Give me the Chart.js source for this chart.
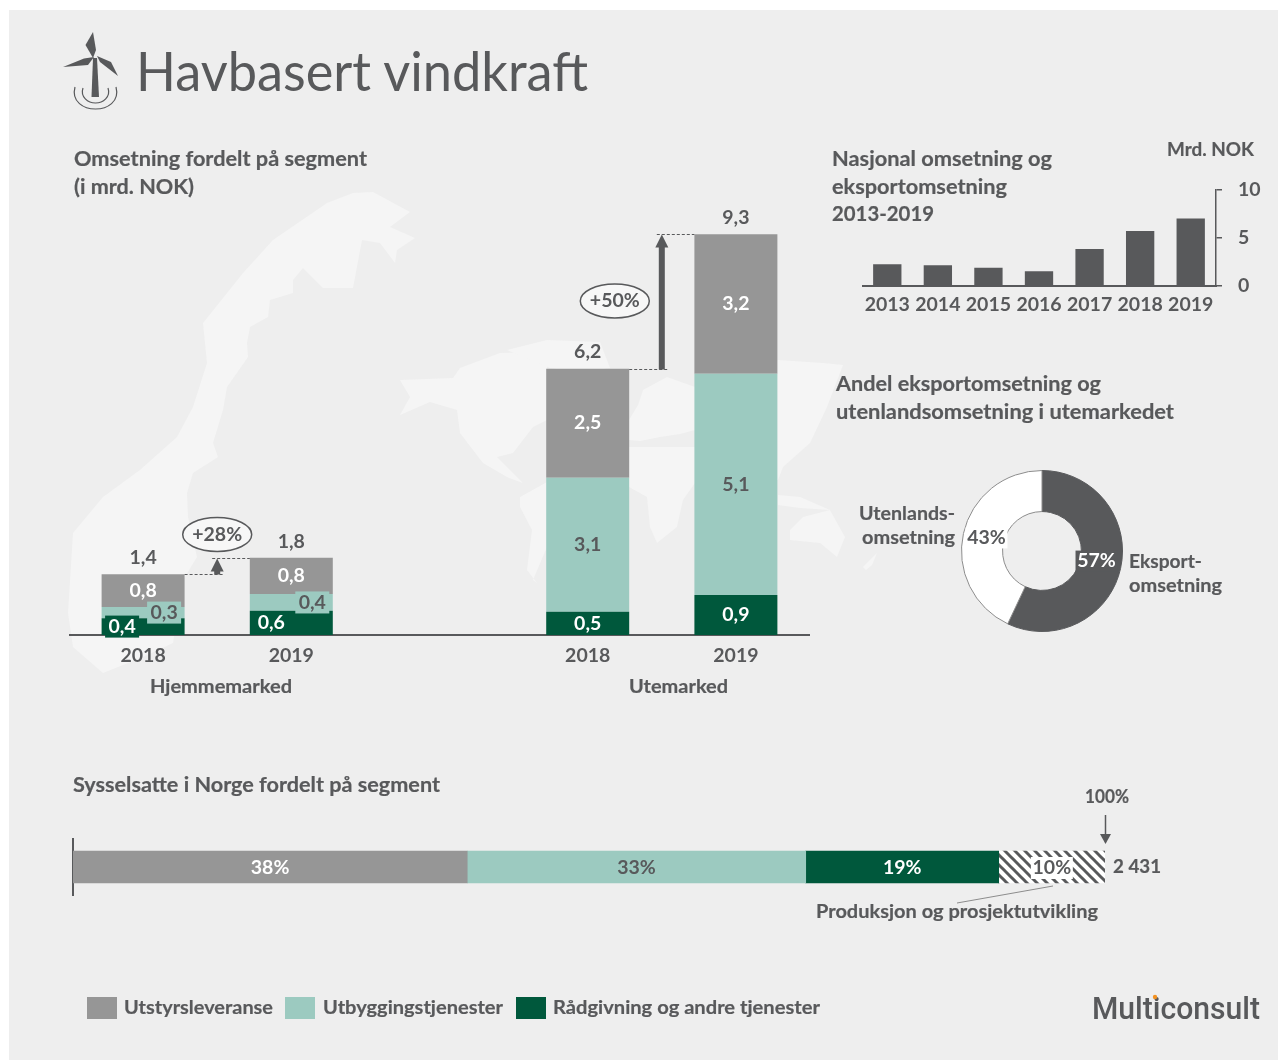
<!DOCTYPE html>
<html lang="no">
<head>
<meta charset="utf-8">
<title>Havbasert vindkraft</title>
<script src="https://cdn.jsdelivr.net/npm/chart.js@4"></script>
<style>
html,body{margin:0;padding:0;background:#fff;width:1279px;height:1061px;overflow:hidden}
#panel{position:absolute;left:9px;top:10px;width:1269px;height:1050px;background:#eee}
canvas,svg{position:absolute}
svg{left:0;top:0}
svg text{font-family:Lato,"Noto Sans",sans-serif;fill:#58595b}
</style>
</head>
<body>
<div id="panel"></div>
<svg id="map" width="1279" height="1061"></svg>
<canvas id="main" width="741" height="496" style="left:69px;top:204px"></canvas>
<canvas id="trend" width="400" height="136" style="left:862px;top:180px"></canvas>
<canvas id="share" width="164" height="164" style="left:960px;top:469px"></canvas>
<canvas id="staff" width="1037" height="58" style="left:72px;top:838px"></canvas>
<svg id="over" width="1279" height="1061"></svg>
<script>
// ---------- data ----------
const marketCategories = ['2018', '2019', '', '2018', '2019'];
const equipment  = [0.76, 0.84, null, 2.53, 3.24];
const buildout   = [0.26, 0.39, null, 3.11, 5.13];
const advisory   = [0.39, 0.56, null, 0.54, 0.93];
const totals     = [1.4, 1.8, null, 6.2, 9.3];
const growth     = ['+28%', '+50%'];

const trendYears  = ['2013', '2014', '2015', '2016', '2017', '2018', '2019'];
const trendValues = [2.25, 2.14, 1.9, 1.52, 3.83, 5.7, 7.0];

const shareLabels = ['Eksportomsetning', 'Utenlandsomsetning'];
const shareValues = [57, 43];

const staffNames  = ['Utstyrsleveranse', 'Utbyggingstjenester', 'Rådgivning og andre tjenester', 'Produksjon og prosjektutvikling'];
const staffValues = [38.2, 32.8, 18.7, 10.3];

// ---------- styling ----------
const GREY = '#969696', TEAL = '#9ccac0', GREEN = '#00583c', DARK = '#58595b';
const NUM_FONT = 'bold 19.5px Lato, "Noto Sans", sans-serif';
const comma = v => v.toFixed(1).replace('.', ',');

function boxedText(ctx, text, x, y, color, bg, w, h) {
  ctx.save();
  if (bg) { ctx.fillStyle = bg; ctx.fillRect(x - w / 2, y - h / 2, w, h); }
  ctx.font = NUM_FONT; ctx.fillStyle = color;
  ctx.textAlign = 'center'; ctx.textBaseline = 'middle';
  ctx.fillText(text, x, y);
  ctx.restore();
}

// ---------- main stacked bars ----------
const segStyle = [
  { color: '#ffffff', bg: GREEN },
  { color: DARK, bg: TEAL },
  { color: '#ffffff', bg: null }
];
const homeShift = { '0:0': -21, '0:1': -20, '1:0': 21, '1:1': 21 };

const mainAnnotations = {
  id: 'mainAnnotations',
  afterDatasetsDraw(chart) {
    const ctx = chart.ctx, y = chart.scales.y, x = chart.scales.x;
    chart.data.datasets.forEach((ds, d) => {
      chart.getDatasetMeta(d).data.forEach((el, i) => {
        const v = ds.data[i];
        if (v == null) return;
        const small = i < 2 && d < 2;
        const dx = homeShift[d + ':' + i] || 0;
        const cy = (el.y + el.base) / 2;
        boxedText(ctx, comma(v), el.x + dx, cy, segStyle[d].color, small ? segStyle[d].bg : null, 34, 22);
      });
    });
    totals.forEach((t, i) => {
      if (t == null) return;
      boxedText(ctx, comma(t), x.getPixelForValue(i), y.getPixelForValue(sum(i)) - 16.5, DARK);
    });
    const halfBar = chart.getDatasetMeta(0).data[0].width / 2;
    growthArrow(ctx, x, y, 0, 1, halfBar, growth[0], 0, -24);
    growthArrow(ctx, x, y, 3, 4, halfBar, growth[1], -47, null);
  }
};
function sum(i) { return equipment[i] + buildout[i] + advisory[i]; }
function growthArrow(ctx, x, y, a, b, halfBar, label, ex, ey) {
  const xa = x.getPixelForValue(a), xb = x.getPixelForValue(b);
  const ax = (xa + xb) / 2;
  const ya = Math.round(y.getPixelForValue(sum(a))) + .5, yb = Math.round(y.getPixelForValue(sum(b))) + .5;
  ctx.save();
  ctx.strokeStyle = DARK; ctx.lineWidth = 1; ctx.setLineDash([3, 2]);
  ctx.beginPath();
  ctx.moveTo(xa + halfBar, ya); ctx.lineTo(ax + 7, ya);
  ctx.moveTo(ax - 5, yb); ctx.lineTo(xb - halfBar, yb);
  ctx.stroke();
  ctx.setLineDash([]);
  ctx.fillStyle = DARK;
  ctx.fillRect(ax - 3, yb + 10, 6, ya - yb - 10);
  ctx.beginPath();
  ctx.moveTo(ax, yb); ctx.lineTo(ax + 6.5, yb + 13); ctx.lineTo(ax - 6.5, yb + 13); ctx.closePath(); ctx.fill();
  const ecx = ax + ex, ecy = ey == null ? (ya + yb) / 2 - 1 : yb + ey;
  ctx.beginPath(); ctx.ellipse(ecx, ecy, 34.5, 17, 0, 0, Math.PI * 2);
  ctx.fillStyle = '#f7f7f7'; ctx.fill();
  ctx.lineWidth = 1.5; ctx.strokeStyle = DARK; ctx.stroke();
  ctx.restore();
  boxedText(ctx, label, ecx, ecy, DARK);
}

const tickFont = { family: 'Lato', size: 19.5, weight: 'bold' };

new Chart(document.getElementById('main'), {
  type: 'bar',
  data: {
    labels: marketCategories,
    datasets: [
      { label: staffNames[2], data: advisory, backgroundColor: GREEN },
      { label: staffNames[1], data: buildout, backgroundColor: TEAL },
      { label: staffNames[0], data: equipment, backgroundColor: GREY }
    ]
  },
  options: {
    responsive: false, animation: false, devicePixelRatio: 1,
    layout: { padding: 0 },
    plugins: { legend: { display: false }, tooltip: { enabled: false } },
    datasets: { bar: { categoryPercentage: 1, barPercentage: 0.56 } },
    scales: {
      x: {
        stacked: true,
        afterFit: s => { s.height = 65; },
        grid: { display: false, drawTicks: false },
        border: { color: DARK, width: 2 },
        ticks: { color: DARK, font: tickFont, padding: 9, maxRotation: 0, autoSkip: false }
      },
      y: { stacked: true, display: false, min: 0, max: 10 }
    }
  },
  plugins: [mainAnnotations]
});

// ---------- national revenue ----------
new Chart(document.getElementById('trend'), {
  type: 'bar',
  data: { labels: trendYears, datasets: [{ data: trendValues, backgroundColor: DARK }] },
  options: {
    responsive: false, animation: false, devicePixelRatio: 1,
    layout: { padding: { top: 9.5 } },
    plugins: { legend: { display: false }, tooltip: { enabled: false } },
    datasets: { bar: { categoryPercentage: 1, barPercentage: 0.56 } },
    scales: {
      x: {
        afterFit: s => { s.height = 30; s.paddingLeft = 0; s.paddingRight = 0; },
        grid: { display: false, drawTicks: false },
        border: { color: DARK, width: 2 },
        ticks: { color: DARK, font: tickFont, padding: 7, maxRotation: 0, autoSkip: false }
      },
      y: {
        position: 'right', min: 0, max: 10,
        afterFit: s => { s.width = 46; s.paddingTop = 0; s.paddingBottom = 0; },
        grid: { drawOnChartArea: false, drawTicks: true, tickLength: 6, color: DARK, lineWidth: 1.5 },
        border: { color: DARK, width: 1.5 },
        ticks: { stepSize: 5, color: DARK, font: tickFont, padding: 16 }
      }
    }
  }
});

// ---------- share doughnut ----------
const shareLabelsPlugin = {
  id: 'shareLabelsPlugin',
  afterDatasetsDraw(chart) {
    const ctx = chart.ctx, arcs = chart.getDatasetMeta(0).data;
    const p0 = arcs[0].tooltipPosition(), p1 = arcs[1].tooltipPosition();
    boxedText(ctx, shareValues[0] + '%', p0.x - 4, p0.y - 3, '#ffffff', DARK, 42, 21);
    boxedText(ctx, shareValues[1] + '%', p1.x + 3, p1.y, DARK, '#ffffff', 42, 21);
  }
};
new Chart(document.getElementById('share'), {
  type: 'doughnut',
  data: {
    labels: shareLabels,
    datasets: [{ data: shareValues, backgroundColor: [DARK, '#ffffff'], borderColor: [DARK, '#8c8c8c'], borderWidth: 1 }]
  },
  options: {
    responsive: false, animation: false, devicePixelRatio: 1,
    cutout: '49%', rotation: 0, layout: { padding: 1 },
    plugins: { legend: { display: false }, tooltip: { enabled: false } }
  },
  plugins: [shareLabelsPlugin]
});

// ---------- employment bar ----------
function hatch() {
  const c = document.createElement('canvas'); c.width = c.height = 10;
  const g = c.getContext('2d');
  g.fillStyle = '#ffffff'; g.fillRect(0, 0, 10, 10);
  g.strokeStyle = DARK; g.lineWidth = 3;
  [-10, 0, 10].forEach(o => { g.beginPath(); g.moveTo(o - 2, -2); g.lineTo(o + 12, 12); g.stroke(); });
  return g.createPattern(c, 'repeat');
}
const staffStyle = [
  { color: GREY, text: '#ffffff' },
  { color: TEAL, text: DARK },
  { color: GREEN, text: '#ffffff' },
  { color: hatch(), text: DARK, bg: '#ffffff' }
];
const staffLabels = {
  id: 'staffLabels',
  afterDatasetsDraw(chart) {
    chart.data.datasets.forEach((ds, d) => {
      const el = chart.getDatasetMeta(d).data[0];
      const s = staffStyle[d];
      boxedText(chart.ctx, Math.round(ds.data[0]) + '%', (el.x + el.base) / 2, el.y + 1, s.text, s.bg, 42, 22);
    });
  }
};
new Chart(document.getElementById('staff'), {
  type: 'bar',
  data: {
    labels: ['Sysselsatte'],
    datasets: staffValues.map((v, i) => ({ label: staffNames[i], data: [v], backgroundColor: staffStyle[i].color }))
  },
  options: {
    indexAxis: 'y', responsive: false, animation: false, devicePixelRatio: 1,
    layout: { padding: { left: 1, right: 4 } },
    plugins: { legend: { display: false }, tooltip: { enabled: false } },
    datasets: { bar: { barThickness: 32 } },
    scales: {
      x: { stacked: true, display: false, min: 0, max: 100 },
      y: {
        stacked: true,
        afterFit: s => { s.width = 0; },
        grid: { drawOnChartArea: false, drawTicks: false },
        border: { color: DARK, width: 2 },
        ticks: { display: false }
      }
    }
  },
  plugins: [staffLabels]
});

// ---------- text and decoration overlay ----------
const NS = 'http://www.w3.org/2000/svg';
function el(parent, tag, attrs, text) {
  const n = document.createElementNS(NS, tag);
  for (const k in attrs) n.setAttribute(k, attrs[k]);
  if (text != null) n.textContent = text;
  parent.appendChild(n);
  return n;
}
const over = document.getElementById('over');
const map = document.getElementById('map');

// [text, left, baseline, width, size, weight]
const texts = [
  ['Havbasert vindkraft', 136, 90.5, 452, 54, 400],
  ['Omsetning fordelt på segment', 74, 166, 293, 20.5, 700],
  ['(i mrd. NOK)', 74, 194, 120, 20.5, 700],
  ['Nasjonal omsetning og', 832, 166, 220, 20.5, 700],
  ['eksportomsetning', 832, 194, 175, 20.5, 700],
  ['2013-2019', 832, 221, 102, 20.5, 700],
  ['Mrd. NOK', 1167, 156, 87, 19, 700],
  ['Andel eksportomsetning og', 836, 391, 265, 20.5, 700],
  ['utenlandsomsetning i utemarkedet', 836, 419, 338, 20.5, 700],
  ['Utenlands-', 859, 520, 96, 19, 700],
  ['omsetning', 862, 544, 93, 19, 700],
  ['Eksport-', 1129, 568, 73, 19, 700],
  ['omsetning', 1129, 592, 93, 19, 700],
  ['Hjemmemarked', 150, 693, 142, 19, 700],
  ['Utemarked', 629, 693, 99, 19, 700],
  ['Sysselsatte i Norge fordelt på segment', 73, 792, 367, 20.5, 700],
  ['100%', 1085, 803, 44, 19, 700],
  ['2 431', 1113, 873, 48, 19, 700],
  ['Produksjon og prosjektutvikling', 816, 918, 282, 19, 700],
  [staffNames[0], 124, 1014, 149, 19, 700],
  [staffNames[1], 323, 1014, 180, 19, 700],
  [staffNames[2], 553, 1014, 267, 19, 700]
];
texts.forEach(([s, x, y, w, size, weight]) => {
  const a = { x, y, textLength: w, lengthAdjust: 'spacingAndGlyphs', 'font-size': size, 'font-weight': weight };
  if (weight === 700) { a.stroke = DARK; a['stroke-width'] = 0.2; }
  el(over, 'text', a, s);
});

// legend swatches
[[87, GREY], [285, TEAL], [516, GREEN]].forEach(([x, fill]) => el(over, 'rect', { x, y: 997, width: 30, height: 22, fill }));

// 100% arrow and leader line
el(over, 'line', { x1: 1105.5, y1: 815, x2: 1105.5, y2: 836, stroke: DARK, 'stroke-width': 1.5 });
el(over, 'path', { d: 'M1100 834 L1111 834 L1105.5 844 Z', fill: DARK });
el(over, 'line', { x1: 1053, y1: 886, x2: 957, y2: 903, stroke: '#8c8c8c', 'stroke-width': 1 });

// turbine icon
const ic = el(over, 'g', { fill: DARK });
el(ic, 'path', { d: 'M93 32 L85.5 45 L93 58 L96 50 Z' });
el(ic, 'path', { d: 'M63 67 L84 58.5 L94 57 L88 65 Z' });
el(ic, 'path', { d: 'M118 76 L111 62 L97 56 L100 62 Z' });
el(ic, 'path', { d: 'M93 58 L97 58 L99 97 L91.5 97 Z' });
el(over, 'path', { d: 'M75 87 C71 102 84 109 95.5 109 C107 109 120 102 116 87', fill: 'none', stroke: DARK, 'stroke-width': 1.2 });
el(over, 'path', { d: 'M83 88 C80 97 88 103 95.5 103 C103 103 111 97 108 88', fill: 'none', stroke: DARK, 'stroke-width': 1.2 });

// logo
el(over, 'text', { x: 1092, y: 1019, textLength: 168, lengthAdjust: 'spacingAndGlyphs', 'font-size': 32, 'font-weight': 500, style: 'font-family:Roboto,Lato,sans-serif' }, 'Multiconsult');
el(over, 'circle', { cx: 1155, cy: 997, r: 2.2, fill: '#f29222' });

// pale background map (decoration only)
const shapes = [
  'M373 192 L410 212 L390 227 L415 238 L397 250 L395 263 L380 243 L362 240 L353 288 L323 288 L303 268 L293 280 L293 293 L270 300 L268 317 L250 327 L247 343 L248 357 L227 387 L223 410 L213 443 L218 457 L193 473 L187 493 L188 517 L197 557 L183 580 L173 643 L143 657 L103 673 L73 647 L68 613 L73 533 L103 497 L140 470 L177 437 L193 407 L207 363 L203 323 L243 273 L273 240 L327 203 L353 193 Z',
  'M400 380 L453 378 L460 368 L500 353 L547 352 L547 420 L533 427 L513 453 L497 457 L523 483 L507 477 L483 463 L460 433 L457 410 L430 402 L400 415 L410 397 Z',
  'M507 350 L547 340 L600 342 L610 368 L580 372 L550 368 Z',
  'M520 497 L547 482 L600 490 L600 520 L547 547 L533 580 L537 583 L527 570 L532 530 L520 507 Z',
  'M629 420 L638 405 L643 390 L667 377 L695 387 L778 360 L823 363 L843 365 L827 407 L810 443 L783 467 L778 480 L740 480 L695 430 L680 434 L660 437 L640 441 L629 440 Z',
  'M629 447 L695 447 L695 483 L683 500 L677 527 L657 543 L650 527 L647 497 L629 487 Z',
  'M778 495 L800 497 L830 510 L800 508 L778 505 Z',
  'M790 530 L803 517 L830 510 L845 537 L837 557 L820 543 L790 540 Z',
  'M863 567 L877 553 L872 565 L866 570 Z'
];
shapes.forEach(d => el(map, 'path', { d, fill: '#f5f5f5' }));
</script>
</body>
</html>
